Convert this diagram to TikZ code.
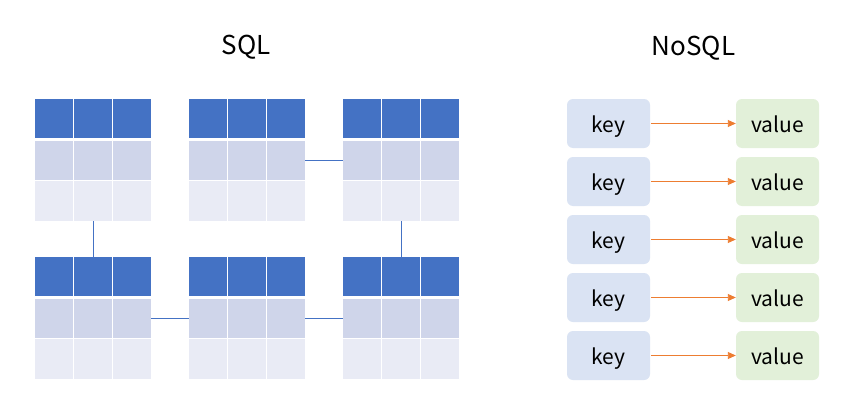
\documentclass[tikz,border=0pt]{standalone}
\usepackage{fontspec}
\newfontfamily\krfont{Noto Sans CJK KR}
\usetikzlibrary{arrows.meta}
\definecolor{hdr}{HTML}{4472C4}
\definecolor{rowa}{HTML}{CFD5EA}
\definecolor{rowb}{HTML}{E9EBF5}
\definecolor{keyfill}{HTML}{DAE3F3}
\definecolor{valfill}{HTML}{E2F0D9}
\definecolor{arr}{HTML}{ED7D31}
\tikzset{
  tblrow/.style={draw=none, inner sep=0pt, minimum width=116pt, anchor=north west},
  hdrrow/.style={tblrow, fill=hdr, minimum height=39pt},
  midrow/.style={tblrow, fill=rowa, minimum height=39pt},
  lowrow/.style={tblrow, fill=rowb, minimum height=40pt},
  sep/.style={white, line width=1pt},
  link/.style={hdr, line width=0.9pt},
  kvbox/.style={rounded corners=6pt, inner sep=0pt, minimum width=83pt, minimum height=49pt,
    font=\krfont\fontsize{21}{24}\selectfont, text height=22pt, text depth=4pt},
  keybox/.style={kvbox, fill=keyfill},
  valbox/.style={kvbox, fill=valfill},
  kvarrow/.style={arr, line width=0.9pt, -{Triangle[length=8pt,width=7pt]}},
  title/.style={font=\krfont\fontsize{26}{30}\selectfont, anchor=base, inner sep=0pt}
}
\newcommand{\sqltable}[3]{%
  \node[hdrrow] (#1h) at (#2,#3) {};
  \node[midrow] (#1m) at (#2,#3+42) {};
  \node[lowrow] (#1l) at (#2,#3+82) {};
  \draw[sep] (#2+38.5,#3) -- (#2+38.5,#3+122);
  \draw[sep] (#2+77.5,#3) -- (#2+77.5,#3+122);
  \draw[sep] (#2,#3+81.5) -- (#2+116,#3+81.5);
}
\begin{document}
\begin{tikzpicture}[x=1pt,y=-1pt]
\useasboundingbox[fill=white] (0,0) rectangle (862,407);
\node[title] (sqlt) at (246,54) {SQL};
\node[title] (nosqlt) at (693.5,55.5) {NoSQL};
\sqltable{a}{35}{99}
\sqltable{b}{189}{99}
\sqltable{c}{343}{99}
\sqltable{d}{35}{257}
\sqltable{e}{189}{257}
\sqltable{f}{343}{257}
\draw[link] (al.south) -- (dh.north);
\draw[link] (cl.south) -- (fh.north);
\draw[link] (bm.east) -- (cm.west);
\draw[link] (dm.east) -- (em.west);
\draw[link] (em.east) -- (fm.west);
\foreach \i/\y in {1/123.5,2/181.5,3/239.5,4/297.5,5/355.5}{
  \node[keybox] (k\i) at (608.5,\y) {key};
  \node[valbox] (v\i) at (777.5,\y) {value};
  \draw[kvarrow] (k\i.east) ++(1pt,0) -- (v\i.west);
}
\end{tikzpicture}
\end{document}
